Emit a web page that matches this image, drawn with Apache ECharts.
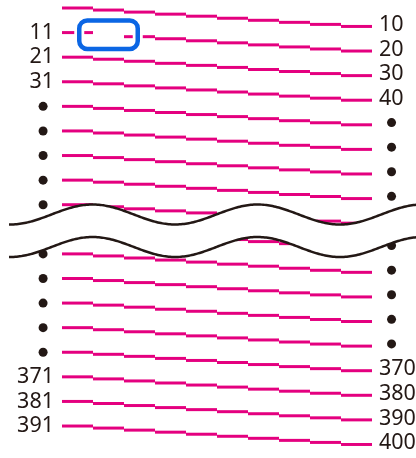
<!DOCTYPE html>
<html>
<head>
<meta charset="utf-8">
<script src="https://cdn.jsdelivr.net/npm/echarts@6/dist/echarts.min.js"></script>
<style>
  html, body { margin: 0; padding: 0; background: #fff; }
  #chart { width: 416px; height: 458px; }
</style>
</head>
<body>
<div id="chart"></div>
<script>
// 18 rows drawn, 10 items per row (row 1 = 1..10 ... last row = 391..400)
const leftLabels  = ['', '11', '21', '31', '', '', '', '', '', '', '', '', '', '', '', '371', '381', '391'];
const rightLabels = ['10', '20', '30', '40', '', '', '', '', '', '', '', '', '', '', '370', '380', '390', '400'];
const leftDotRows  = [4, 5, 6, 7, 8, 9, 10, 11, 12, 13, 14];
const rightDotRows = [4, 5, 6, 7, 8, 9, 10, 11, 12, 13];
const stepsPerRow = 10;
// item 12 (row 2, step 2) is left out and boxed
const boxedItems = [[1, 1]];

const pink = '#e4007f';
const ink = '#231815';
const dropPerStep = 1 / 12;   // each step goes down 1/12 of a row

let chart = echarts.init(document.getElementById('chart'));

// segments
let segData = [];
for (let r = 0; r < leftLabels.length; r++) {
  for (let s = 0; s < stepsPerRow; s++) {
    let hidden = boxedItems.some(b => b[0] === r && b[1] === s);
    if (!hidden) segData.push([s, r]);
  }
}

let leftLabelData = [];
let rightLabelData = [];
leftLabels.forEach((t, r) => { if (t) leftLabelData.push([0, r, t]); });
rightLabels.forEach((t, r) => { if (t) rightLabelData.push([stepsPerRow, r + 0.75 - 0.06, t]); });

let leftDotData = leftDotRows.map(r => [-0.61, r]);
let rightDotData = rightDotRows.map(r => [stepsPerRow + 0.63, r + 0.66]);

const labelStyle = {
  show: true,
  fontFamily: 'Noto Sans',
  fontSize: 21.5,
  color: ink,
  opacity: 1,
  formatter: p => p.value[2]
};

let option = {
  animation: false,
  grid: { left: 0, right: 0, top: 0, bottom: 0 },
  xAxis: { type: 'value', min: -2, max: 11.419, show: false },
  yAxis: { type: 'value', inverse: true, min: -0.3253, max: 18.3002, show: false },
  series: [
    {
      name: 'segments',
      type: 'custom',
      z: 1,
      data: segData,
      renderItem: function (params, api) {
        let s = api.value(0), r = api.value(1);
        let y = r + s * dropPerStep;
        let a = api.coord([s, y]);
        let b = api.coord([s + 1, y]);
        return {
          type: 'rect',
          shape: { x: a[0], y: a[1] - 1.5, width: b[0] - a[0], height: 3 },
          style: { fill: pink }
        };
      }
    },
    {
      name: 'leftDots', type: 'scatter', z: 2, symbol: 'circle', symbolSize: 9,
      itemStyle: { color: ink, opacity: 1 }, data: leftDotData
    },
    {
      name: 'rightDots', type: 'scatter', z: 2, symbol: 'circle', symbolSize: 9,
      itemStyle: { color: ink, opacity: 1 }, data: rightDotData
    },
    {
      // wavy break band
      name: 'break',
      type: 'custom',
      z: 3,
      data: [[8.398, 1.322]],
      renderItem: function (params, api) {
        let center = api.value(0), gap = api.value(1);
        let amp = 0.4067, period = 5.32, trough = 8.968;
        let top = [], bottom = [];
        for (let x = -1.71; x <= 11.5; x += 0.05) {
          let dy = amp * Math.cos(2 * Math.PI * (x - trough) / period);
          top.push(api.coord([x, center + dy]));
          bottom.push(api.coord([x, center + gap + dy]));
        }
        let poly = top.concat(bottom.slice().reverse());
        return {
          type: 'group',
          children: [
            { type: 'polygon', shape: { points: poly }, style: { fill: '#fff' } },
            { type: 'polyline', shape: { points: top }, style: { stroke: ink, lineWidth: 2.5, fill: null } },
            { type: 'polyline', shape: { points: bottom }, style: { stroke: ink, lineWidth: 2.5, fill: null } }
          ]
        };
      }
    },
    {
      name: 'leftLabels', type: 'scatter', z: 4, symbolSize: 0,
      itemStyle: { opacity: 1 },
      label: Object.assign({ position: 'left', distance: 8 }, labelStyle),
      data: leftLabelData
    },
    {
      name: 'rightLabels', type: 'scatter', z: 4, symbolSize: 0,
      itemStyle: { opacity: 1 },
      label: Object.assign({ position: 'right', distance: 7 }, labelStyle),
      data: rightLabelData
    },
    {
      name: 'box',
      type: 'custom',
      z: 5,
      data: boxedItems.map(b => [b[1], b[0]]),
      renderItem: function (params, api) {
        let s = api.value(0), r = api.value(1);
        let c = api.coord([s + 0.5, r + s * dropPerStep]);
        let shape = { x: c[0] - 29.25, y: c[1] - 14.25, width: 58.5, height: 28.5, r: 8 };
        return {
          type: 'group',
          children: [
            { type: 'rect', shape: shape, style: { fill: null, stroke: '#fff', lineWidth: 10 } },
            { type: 'rect', shape: shape, style: { fill: null, stroke: '#0b66e4', lineWidth: 4.5 } }
          ]
        };
      }
    }
  ]
};

chart.setOption(option);
</script>
</body>
</html>
